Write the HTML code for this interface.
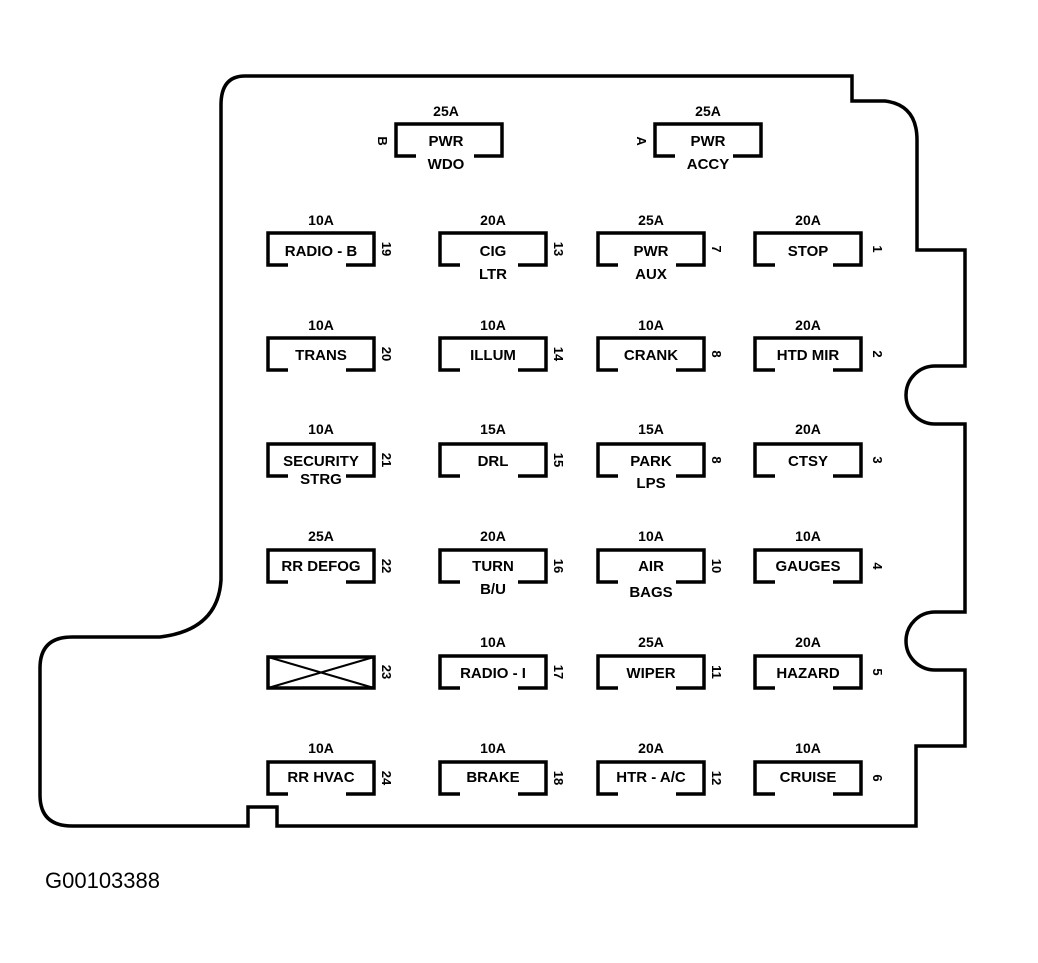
<!DOCTYPE html>
<html><head><style>
html,body{margin:0;padding:0;background:#fff;}
svg{display:block;}
text{font-family:"Liberation Sans",sans-serif;fill:#000;}
.l{font-size:15px;text-anchor:middle;font-weight:bold;}
.a{font-size:14px;text-anchor:middle;font-weight:bold;}
.n{font-size:13px;font-weight:bold;text-anchor:middle;}
.b{fill:none;stroke:#000;stroke-width:3.5;}
</style></head><body>
<svg width="1038" height="963" viewBox="0 0 1038 963">
<path class="b" stroke-width="4.5" d="M245,76 H852 V101 H885 Q917,105 917,140 V250 H965 V366 H935 A29,29 0 0 0 935,424 H965 V612 H935 A29,29 0 0 0 935,670 H965 V746 H916 V826 H277 V807 H248 V826 H72 Q40,826 40,795 V668 Q40,637 72,637 H160 Q218,630 221,580 V105 Q221,76 245,76 Z"/>
<defs>
<path id="f" class="b" d="M20,32 H0 V0 H106 V32 H78"/>
</defs>
<use href="#f" x="396" y="124"/><text class="a" x="446" y="116">25A</text><text class="l" x="446" y="146">PWR</text><text class="l" x="446" y="169">WDO</text><text class="n" transform="translate(378,141) rotate(90)">B</text>
<use href="#f" x="655" y="124"/><text class="a" x="708" y="116">25A</text><text class="l" x="708" y="146">PWR</text><text class="l" x="708" y="169">ACCY</text><text class="n" transform="translate(637,141) rotate(90)">A</text>
<use href="#f" x="268" y="233"/><text class="a" x="321" y="225">10A</text><text class="l" x="321" y="256">RADIO - B</text><text class="n" transform="translate(382,249) rotate(90)">19</text>
<use href="#f" x="440" y="233"/><text class="a" x="493" y="225">20A</text><text class="l" x="493" y="256">CIG</text><text class="l" x="493" y="279">LTR</text><text class="n" transform="translate(554,249) rotate(90)">13</text>
<use href="#f" x="598" y="233"/><text class="a" x="651" y="225">25A</text><text class="l" x="651" y="256">PWR</text><text class="l" x="651" y="279">AUX</text><text class="n" transform="translate(712,249) rotate(90)">7</text>
<use href="#f" x="755" y="233"/><text class="a" x="808" y="225">20A</text><text class="l" x="808" y="256">STOP</text><text class="n" transform="translate(873,249) rotate(90)">1</text>
<use href="#f" x="268" y="338"/><text class="a" x="321" y="330">10A</text><text class="l" x="321" y="360">TRANS</text><text class="n" transform="translate(382,354) rotate(90)">20</text>
<use href="#f" x="440" y="338"/><text class="a" x="493" y="330">10A</text><text class="l" x="493" y="360">ILLUM</text><text class="n" transform="translate(554,354) rotate(90)">14</text>
<use href="#f" x="598" y="338"/><text class="a" x="651" y="330">10A</text><text class="l" x="651" y="360">CRANK</text><text class="n" transform="translate(712,354) rotate(90)">8</text>
<use href="#f" x="755" y="338"/><text class="a" x="808" y="330">20A</text><text class="l" x="808" y="360">HTD MIR</text><text class="n" transform="translate(873,354) rotate(90)">2</text>
<use href="#f" x="268" y="444"/><text class="a" x="321" y="434">10A</text><text class="l" x="321" y="466">SECURITY</text><text class="l" x="321" y="484">STRG</text><text class="n" transform="translate(382,460) rotate(90)">21</text>
<use href="#f" x="440" y="444"/><text class="a" x="493" y="434">15A</text><text class="l" x="493" y="466">DRL</text><text class="n" transform="translate(554,460) rotate(90)">15</text>
<use href="#f" x="598" y="444"/><text class="a" x="651" y="434">15A</text><text class="l" x="651" y="466">PARK</text><text class="l" x="651" y="488">LPS</text><text class="n" transform="translate(712,460) rotate(90)">8</text>
<use href="#f" x="755" y="444"/><text class="a" x="808" y="434">20A</text><text class="l" x="808" y="466">CTSY</text><text class="n" transform="translate(873,460) rotate(90)">3</text>
<use href="#f" x="268" y="550"/><text class="a" x="321" y="541">25A</text><text class="l" x="321" y="571">RR DEFOG</text><text class="n" transform="translate(382,566) rotate(90)">22</text>
<use href="#f" x="440" y="550"/><text class="a" x="493" y="541">20A</text><text class="l" x="493" y="571">TURN</text><text class="l" x="493" y="594">B/U</text><text class="n" transform="translate(554,566) rotate(90)">16</text>
<use href="#f" x="598" y="550"/><text class="a" x="651" y="541">10A</text><text class="l" x="651" y="571">AIR</text><text class="l" x="651" y="597">BAGS</text><text class="n" transform="translate(712,566) rotate(90)">10</text>
<use href="#f" x="755" y="550"/><text class="a" x="808" y="541">10A</text><text class="l" x="808" y="571">GAUGES</text><text class="n" transform="translate(873,566) rotate(90)">4</text>
<rect class="b" x="268" y="657" width="106" height="31"/><path d="M268,657 L374,688 M268,688 L374,657" stroke="#000" stroke-width="2"/><text class="n" transform="translate(382,672) rotate(90)">23</text>
<use href="#f" x="440" y="656"/><text class="a" x="493" y="647">10A</text><text class="l" x="493" y="678">RADIO - I</text><text class="n" transform="translate(554,672) rotate(90)">17</text>
<use href="#f" x="598" y="656"/><text class="a" x="651" y="647">25A</text><text class="l" x="651" y="678">WIPER</text><text class="n" transform="translate(712,672) rotate(90)">11</text>
<use href="#f" x="755" y="656"/><text class="a" x="808" y="647">20A</text><text class="l" x="808" y="678">HAZARD</text><text class="n" transform="translate(873,672) rotate(90)">5</text>
<use href="#f" x="268" y="762"/><text class="a" x="321" y="753">10A</text><text class="l" x="321" y="782">RR HVAC</text><text class="n" transform="translate(382,778) rotate(90)">24</text>
<use href="#f" x="440" y="762"/><text class="a" x="493" y="753">10A</text><text class="l" x="493" y="782">BRAKE</text><text class="n" transform="translate(554,778) rotate(90)">18</text>
<use href="#f" x="598" y="762"/><text class="a" x="651" y="753">20A</text><text class="l" x="651" y="782">HTR - A/C</text><text class="n" transform="translate(712,778) rotate(90)">12</text>
<use href="#f" x="755" y="762"/><text class="a" x="808" y="753">10A</text><text class="l" x="808" y="782">CRUISE</text><text class="n" transform="translate(873,778) rotate(90)">6</text>
<text x="45" y="888" style="font-size:22px">G00103388</text>
</svg>
</body></html>
